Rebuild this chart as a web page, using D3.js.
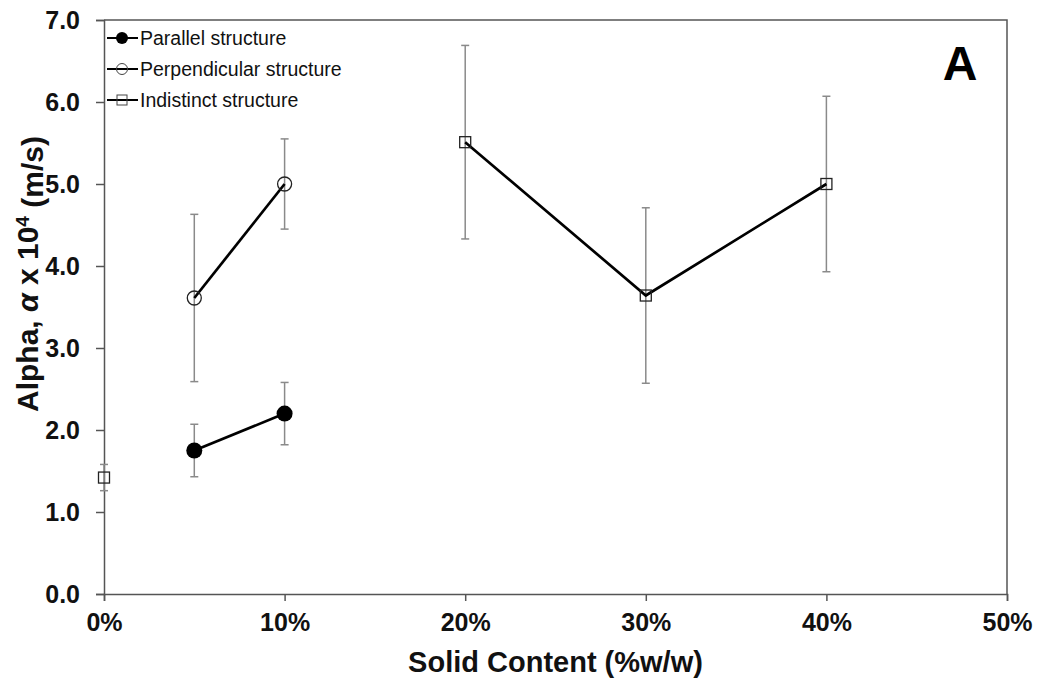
<!DOCTYPE html>
<html>
<head>
<meta charset="utf-8">
<script src="https://cdn.jsdelivr.net/npm/d3@7"></script>
<style>
  body { margin: 0; background: #fff; }
  text { font-family: "Liberation Sans", Arial, sans-serif; }
</style>
</head>
<body>
<div id="chart"></div>
<script>
// Solid content (fraction) on x, alpha x 10^4 on y
var solids = [0, 0.05, 0.10, 0.20, 0.30, 0.40];

var seriesNames = ["Parallel structure", "Perpendicular structure", "Indistinct structure"];

// null = no measurement at that solid content
var parallelVals = [null, 1.75, 2.20, null, null, null];
var parallelErr  = [null, 0.32, 0.38, null, null, null];

var perpVals = [null, 3.61, 5.00, null, null, null];
var perpErr  = [null, 1.02, 0.55, null, null, null];

var indistinctVals = [1.42, null, null, 5.51, 3.64, 5.00];
var indistinctErr  = [0.16, null, null, 1.18, 1.07, 1.07];

var yTicks = [0, 1, 2, 3, 4, 5, 6, 7];
var xTicks = [0, 0.1, 0.2, 0.3, 0.4, 0.5];

var margin = { top: 20, right: 31, bottom: 86, left: 104 };
var svgWidth = 1038, svgHeight = 680;
var width = svgWidth - margin.left - margin.right;
var height = svgHeight - margin.top - margin.bottom;

var svg = d3.select("#chart").append("svg")
  .attr("width", svgWidth)
  .attr("height", svgHeight);

var g = svg.append("g")
  .attr("transform", "translate(" + margin.left + "," + margin.top + ")");

var x = d3.scaleLinear().domain([0, 0.5]).range([0, width]);
var y = d3.scaleLinear().domain([0, 7]).range([height, 0]);

// plot frame (top + right)
g.append("path")
  .attr("d", "M0,0H" + width + "V" + height)
  .attr("fill", "none")
  .attr("stroke", "#555")
  .attr("stroke-width", 1.5);

// axes
var xAxis = g.append("g")
  .attr("transform", "translate(0," + height + ")")
  .call(d3.axisBottom(x).tickValues(xTicks).tickSize(7).tickPadding(12)
    .tickFormat(d3.format(".0%")));

var yAxis = g.append("g")
  .call(d3.axisLeft(y).tickValues(yTicks).tickSize(8).tickPadding(16)
    .tickFormat(d3.format(".1f")));

[xAxis, yAxis].forEach(function (ax) {
  ax.select(".domain").attr("stroke", "#555").attr("stroke-width", 1.5);
  ax.selectAll(".tick line").attr("stroke", "#555").attr("stroke-width", 1.5);
  ax.selectAll(".tick text")
    .attr("fill", "#111")
    .style("font-size", "25px")
    .style("font-weight", "bold");
});
xAxis.selectAll(".tick text").attr("dy", "0.71em");

// axis titles
svg.append("text")
  .attr("x", margin.left + width / 2)
  .attr("y", 672)
  .attr("text-anchor", "middle")
  .style("font-size", "29px")
  .style("font-weight", "bold")
  .attr("fill", "#111")
  .text("Solid Content (%w/w)");

var yTitle = svg.append("text")
  .attr("transform", "translate(38,274) rotate(-90)")
  .attr("text-anchor", "middle")
  .style("font-size", "30px")
  .style("font-weight", "bold")
  .attr("fill", "#111");
yTitle.append("tspan").text("Alpha, ");
yTitle.append("tspan").style("font-style", "italic").text("α");
yTitle.append("tspan").text(" x 10");
yTitle.append("tspan").attr("dy", "-0.45em").style("font-size", "19px").text("4");
yTitle.append("tspan").attr("dy", "0.45em").text(" (m/s)");

// panel letter
svg.append("text")
  .attr("x", 960)
  .attr("y", 80)
  .attr("text-anchor", "middle")
  .style("font-size", "48px")
  .style("font-weight", "bold")
  .attr("fill", "#000")
  .text("A");

function toPoints(vals, errs) {
  return solids.map(function (s, i) {
    return { x: s, y: vals[i], e: errs[i] };
  });
}

var series = [
  { name: seriesNames[0], pts: toPoints(parallelVals, parallelErr), marker: "filled" },
  { name: seriesNames[1], pts: toPoints(perpVals, perpErr), marker: "open" },
  { name: seriesNames[2], pts: toPoints(indistinctVals, indistinctErr), marker: "square" }
];

var line = d3.line()
  .defined(function (d) { return d.y !== null; })
  .x(function (d) { return x(d.x); })
  .y(function (d) { return y(d.y); });

function drawMarker(sel, type, cx, cy) {
  if (type === "filled") {
    sel.append("circle").attr("cx", cx).attr("cy", cy).attr("r", 8)
      .attr("fill", "#000");
  } else if (type === "open") {
    sel.append("circle").attr("cx", cx).attr("cy", cy).attr("r", 7)
      .attr("fill", "none").attr("stroke", "#222").attr("stroke-width", 1.3);
  } else {
    sel.append("rect").attr("x", cx - 5.5).attr("y", cy - 5.5)
      .attr("width", 11).attr("height", 11)
      .attr("fill", "none").attr("stroke", "#222").attr("stroke-width", 1.3);
  }
}

series.forEach(function (s) {
  var pts = s.pts.filter(function (d) { return d.y !== null; });
  var sg = g.append("g");

  // error bars
  pts.forEach(function (d) {
    var px = x(d.x), y0 = y(d.y - d.e), y1 = y(d.y + d.e);
    sg.append("line").attr("x1", px).attr("x2", px).attr("y1", y0).attr("y2", y1)
      .attr("stroke", "#8a8a8a").attr("stroke-width", 1.5);
    [y0, y1].forEach(function (yy) {
      sg.append("line").attr("x1", px - 4).attr("x2", px + 4).attr("y1", yy).attr("y2", yy)
        .attr("stroke", "#8a8a8a").attr("stroke-width", 1.5);
    });
  });

  sg.append("path")
    .datum(s.pts)
    .attr("d", line)
    .attr("fill", "none")
    .attr("stroke", "#000")
    .attr("stroke-width", 2.7);

  pts.forEach(function (d) { drawMarker(sg, s.marker, x(d.x), y(d.y)); });
});

// legend
var legend = svg.append("g").attr("transform", "translate(107,38)");
series.forEach(function (s, i) {
  var lg = legend.append("g").attr("transform", "translate(0," + (i * 31) + ")");
  lg.append("line").attr("x1", 0).attr("x2", 31).attr("y1", 0).attr("y2", 0)
    .attr("stroke", "#000").attr("stroke-width", 2);
  if (s.marker === "filled") {
    lg.append("circle").attr("cx", 15).attr("cy", 0).attr("r", 6).attr("fill", "#000");
  } else if (s.marker === "open") {
    lg.append("circle").attr("cx", 15).attr("cy", 0).attr("r", 5.5)
      .attr("fill", "none").attr("stroke", "#444").attr("stroke-width", 1);
  } else {
    lg.append("rect").attr("x", 10).attr("y", -5).attr("width", 10).attr("height", 10)
      .attr("fill", "none").attr("stroke", "#444").attr("stroke-width", 1);
  }
  lg.append("text")
    .attr("x", 33)
    .attr("y", 0)
    .attr("dy", "0.35em")
    .style("font-size", "19.5px")
    .attr("fill", "#111")
    .text(s.name);
});
</script>
</body>
</html>
